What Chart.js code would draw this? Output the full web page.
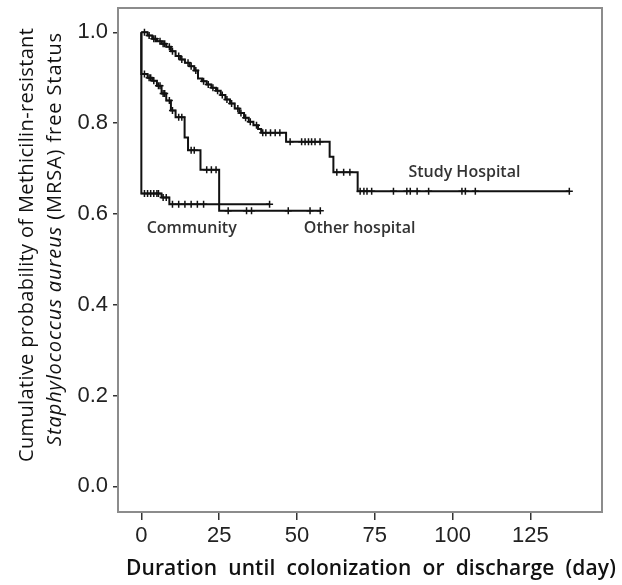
<!DOCTYPE html>
<html>
<head>
<meta charset="utf-8">
<script src="https://cdn.jsdelivr.net/npm/chart.js@4/dist/chart.umd.min.js"></script>
<style>
  body { margin: 0; background: #fff; }
  #wrap { width: 622px; height: 585px; }
</style>
</head>
<body>
<div id="wrap"><canvas id="kmChart" width="622" height="585"></canvas></div>
<script>
// Kaplan-Meier steps: time (day) and survival after the drop
const studyTimes = [0, 0, 2, 3.5, 5, 6.5, 8, 9.5, 11, 12.5, 14, 15.5, 17, 18.2, 19.5, 21, 22.5, 24, 25.5, 27, 28.5, 30, 31.5, 33, 34.5, 36, 37.5, 38.5, 46.5, 60.5, 61.7, 69.5, 137.5];
const studySurv  = [1, 1, 0.993, 0.986, 0.98, 0.975, 0.968, 0.958, 0.948, 0.94, 0.933, 0.925, 0.916, 0.898, 0.892, 0.885, 0.878, 0.871, 0.862, 0.852, 0.843, 0.832, 0.822, 0.812, 0.803, 0.795, 0.787, 0.779, 0.759, 0.726, 0.692, 0.65, 0.65];
const studyCensor = [1, 2.5, 4, 4.5, 6, 7, 7.5, 9, 10, 12, 13, 15, 16, 17.5, 20, 21.5, 23, 24.5, 26, 27.5, 29, 31, 32, 33.5, 35, 37, 39, 40, 41.5, 43, 44.5, 47.8, 51.5, 52.6, 53.7, 54.7, 55.8, 57.4, 62.8, 65, 67, 70.3, 71.5, 72.5, 74, 81, 85.3, 86.4, 88.6, 92.3, 103, 104.1, 107.3, 137.5];

const otherTimes = [0, 0, 2, 3.5, 5, 6.5, 8, 9.5, 11, 13.9, 15, 19, 25, 57.5];
const otherSurv  = [1, 0.908, 0.9, 0.893, 0.882, 0.865, 0.85, 0.828, 0.813, 0.768, 0.74, 0.697, 0.607, 0.607];
const otherCensor = [1, 2.5, 3, 4, 5.5, 6, 7, 7.5, 9, 10, 12, 13, 16, 17, 21, 22.5, 24, 27.9, 33.8, 35.4, 47.2, 54.2, 57.5];

const communityTimes = [0, 0, 6.5, 9, 41.2];
const communitySurv  = [1, 0.645, 0.636, 0.621, 0.621];
const communityCensor = [1, 2, 3, 4, 5, 5.5, 7, 8, 10, 12, 14, 16, 18, 20, 41.2];

const xTickValues = [0, 25, 50, 75, 100, 125];
const yTickValues = [0, 0.2, 0.4, 0.6, 0.8, 1.0];

const curveLabels = ["Study Hospital", "Other hospital", "Community"];
const labelAnchorX = [85.8, 52.2, 1.7];
const labelAnchorY = [0.692, 0.568, 0.568];

const xTitle = "Duration  until  colonization  or  discharge  (day)";

function toPoints(times, surv) {
    return times.map((t, i) => ({ x: t, y: surv[i] }));
}

// survival value at a censoring time
function survAt(times, surv, t) {
    let s = surv[0];
    for (let i = 0; i < times.length; i++) {
        if (times[i] <= t) s = surv[i];
    }
    return s;
}

function censorPoints(times, surv, cens) {
    return cens.map(t => ({ x: t, y: survAt(times, surv, t) }));
}

const lineStyle = {
    stepped: true,
    borderColor: "#111",
    borderWidth: 2,
    pointRadius: 0,
    fill: false
};

const censorStyle = {
    showLine: false,
    pointStyle: "cross",
    pointRadius: 3.5,
    borderColor: "#111",
    pointBorderWidth: 1.5
};

// draw a line of text made of segments (some italic), spread to a given width
function drawSpread(ctx, segs, cx, cy, width, size, weight) {
    ctx.letterSpacing = "0px";
    let total = 0, chars = 0;
    segs.forEach(s => {
        ctx.font = (s.it ? "italic " : "") + weight + " " + size + "px 'Open Sans'";
        total += ctx.measureText(s.t).width;
        chars += s.t.length;
    });
    const sp = Math.max(0, (width - total) / chars);
    ctx.letterSpacing = sp.toFixed(2) + "px";
    let x = cx - width / 2;
    segs.forEach(s => {
        ctx.font = (s.it ? "italic " : "") + weight + " " + size + "px 'Open Sans'";
        ctx.fillText(s.t, x, cy);
        x += ctx.measureText(s.t).width;
    });
    ctx.letterSpacing = "0px";
}

const overlay = {
    id: "overlay",
    afterDraw(chart) {
        const ctx = chart.ctx;
        const a = chart.chartArea;
        const xs = chart.scales.x, ys = chart.scales.y;
        ctx.save();

        // plot frame
        ctx.strokeStyle = "#8c8c8c";
        ctx.lineWidth = 2;
        ctx.strokeRect(a.left, a.top, a.right - a.left, a.bottom - a.top);

        // curve labels
        ctx.fillStyle = "#333";
        ctx.font = "600 16px 'Open Sans'";
        ctx.textBaseline = "middle";
        ctx.textAlign = "left";
        curveLabels.forEach((txt, i) => {
            ctx.fillText(txt, xs.getPixelForValue(labelAnchorX[i]), ys.getPixelForValue(labelAnchorY[i]));
        });

        // x title
        ctx.fillStyle = "#111";
        drawSpread(ctx, [{ t: xTitle, it: false }], 371, 569, 490, 21, 600);

        // y title, two lines, rotated
        ctx.translate(0, 245);
        ctx.rotate(-Math.PI / 2);
        drawSpread(ctx, [{ t: "Cumulative probability of Methicilin-resistant", it: false }], 0, 27, 434, 20, 500);
        drawSpread(ctx, [{ t: "Staphylococcus aureus", it: true }, { t: " (MRSA) free Status", it: false }], 6, 55, 414, 20, 500);
        ctx.restore();
    }
};

document.addEventListener("DOMContentLoaded", () => {
    const ctx = document.getElementById("kmChart").getContext("2d");

    new Chart(ctx, {
        type: "line",
        data: {
            datasets: [
                { label: "Study Hospital", data: toPoints(studyTimes, studySurv), ...lineStyle },
                { label: "Other hospital", data: toPoints(otherTimes, otherSurv), ...lineStyle },
                { label: "Community", data: toPoints(communityTimes, communitySurv), ...lineStyle },
                { label: "Study censored", data: censorPoints(studyTimes, studySurv, studyCensor), ...censorStyle },
                { label: "Other censored", data: censorPoints(otherTimes, otherSurv, otherCensor), ...censorStyle },
                { label: "Community censored", data: censorPoints(communityTimes, communitySurv, communityCensor), ...censorStyle }
            ]
        },
        options: {
            responsive: false,
            animation: false,
            layout: { padding: { top: 8, right: 20, left: 0, bottom: 0 } },
            plugins: {
                legend: { display: false },
                tooltip: { enabled: false }
            },
            scales: {
                x: {
                    type: "linear",
                    min: -7.5,
                    max: 148,
                    afterBuildTicks: s => { s.ticks = xTickValues.map(v => ({ value: v })); },
                    afterFit: s => { s.height = 73; s.paddingLeft = 0; s.paddingRight = 0; },
                    border: { display: false },
                    grid: { drawOnChartArea: false, drawTicks: true, tickLength: 8, color: "#333", lineWidth: 1.5 },
                    ticks: {
                        color: "#222",
                        padding: 3,
                        maxRotation: 0,
                        font: { family: "'Liberation Sans', Arial", size: 22 }
                    }
                },
                y: {
                    min: -0.0566,
                    max: 1.0535,
                    afterBuildTicks: s => { s.ticks = yTickValues.map(v => ({ value: v })); },
                    afterFit: s => { s.width = 118; s.paddingTop = 0; s.paddingBottom = 0; },
                    border: { display: false },
                    grid: { drawOnChartArea: false, drawTicks: true, tickLength: 5, color: "#333", lineWidth: 1.5 },
                    ticks: {
                        color: "#222",
                        padding: 5,
                        callback: v => v.toFixed(1),
                        font: { family: "'Liberation Sans', Arial", size: 22 }
                    }
                }
            }
        },
        plugins: [overlay]
    });
});
</script>
</body>
</html>
